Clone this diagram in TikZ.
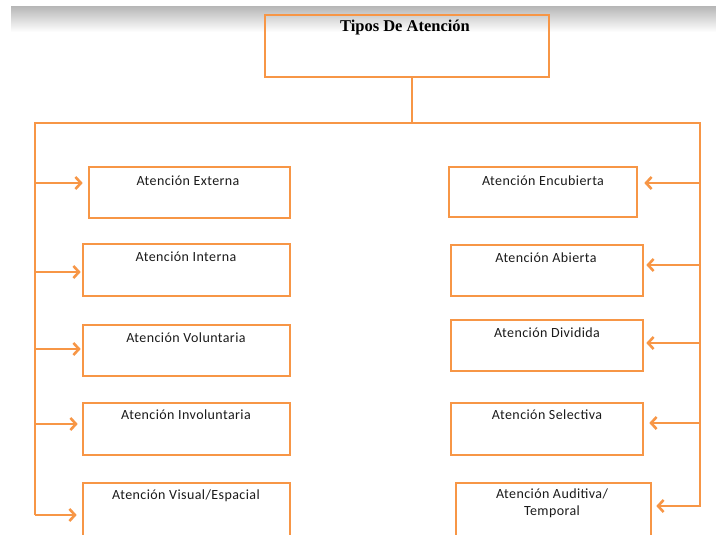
\documentclass[tikz,border=0pt]{standalone}
\usepackage{fontspec}
\usetikzlibrary{arrows.meta}
\newfontfamily\calib[LetterSpace=3]{Carlito}
\newfontfamily\tnr{Liberation Serif}
\definecolor{orc}{HTML}{F79646}
\definecolor{txt}{HTML}{1A1A1A}
\tikzset{
  box/.style={draw=orc, line width=2.6pt, rectangle, inner sep=0pt},
  lbl/.style={font=\calib\fontsize{14}{17}\selectfont, text=txt, inner sep=0pt, align=center},
  ttl/.style={font=\tnr\bfseries\fontsize{16.5}{19}\selectfont, text=black, inner sep=0pt},
  trunk/.style={draw=orc, line width=2.6pt},
  arr/.style={draw=orc, line width=2.6pt, -{Straight Barb[length=5.5pt,width=12pt]}}
}
\begin{document}
\begin{tikzpicture}[x=1pt,y=-1pt]
\useasboundingbox (0,0) rectangle (716,535);
\clip (0,0) rectangle (716,535);
\shade[top color=gray!55, bottom color=white] (11,7) rectangle (716,32);

% top box
\node[box, minimum width=284pt, minimum height=62pt] (top) at (407,46) {};
\node[ttl] (ttop) at (405,28) {Tipos De Atención};

% left boxes
\node[box, minimum width=201pt, minimum height=51pt] (ext) at (189.5,192.5) {};
\node[box, minimum width=207pt, minimum height=52pt] (int) at (186.5,270) {};
\node[box, minimum width=207pt, minimum height=51pt] (vol) at (186.5,350.5) {};
\node[box, minimum width=207pt, minimum height=52pt] (inv) at (186.5,429) {};
\node[box, minimum width=207pt, minimum height=62pt] (vis) at (186.5,514) {};
% right boxes
\node[box, minimum width=188pt, minimum height=50pt] (enc) at (543,192) {};
\node[box, minimum width=192pt, minimum height=51pt] (abi) at (547,270.5) {};
\node[box, minimum width=192pt, minimum height=51pt] (div) at (547,345.5) {};
\node[box, minimum width=192pt, minimum height=52pt] (sel) at (547,429) {};
\node[box, minimum width=195pt, minimum height=62pt] (aud) at (553.5,514) {};

% labels
\node[lbl] (text) at (188,181) {Atención Externa};
\node[lbl] (tint) at (186,257) {Atención Interna};
\node[lbl] (tvol) at (186,338) {Atención Voluntaria};
\node[lbl] (tinv) at (186,415) {Atención Involuntaria};
\node[lbl] (tvis) at (186,496) {Atención Visual/Espacial};
\node[lbl] (tenc) at (543,181) {Atención Encubierta};
\node[lbl] (tabi) at (546,258) {Atención Abierta};
\node[lbl] (tdiv) at (547,333) {Atención Dividida};
\node[lbl] (tsel) at (547,415) {Atención Selectiva};
\node[lbl] (taud) at (552,503) {Atención Auditiva/\\Temporal};

% trunk
\coordinate (jn) at (412,123);
\coordinate (lt) at (35,123);
\coordinate (rt) at (700,123);
\coordinate (lb) at (35,515);
\coordinate (rb) at (700,507);
\draw[trunk] (top.south -| jn) -- (jn);
\draw[trunk] (lb) -- (lt) -- (rt) -- (rb);

% left arrows
\coordinate (l1) at (35,183);
\coordinate (l2) at (35,272);
\coordinate (l3) at (35,349);
\coordinate (l4) at (35,424);
\coordinate (l5) at (35,515);
\draw[arr, shorten >=5pt] (l1) -- (l1 -| ext.west);
\draw[arr, shorten >=1pt] (l2) -- (l2 -| int.west);
\draw[arr, shorten >=1pt] (l3) -- (l3 -| vol.west);
\draw[arr, shorten >=4pt] (l4) -- (l4 -| inv.west);
\draw[arr, shorten >=5pt] (l5) -- (l5 -| vis.west);
% right arrows
\coordinate (r1) at (700,183);
\coordinate (r2) at (700,265);
\coordinate (r3) at (700,343);
\coordinate (r4) at (700,423);
\coordinate (r5) at (700,506);
\draw[arr, shorten >=6pt] (r1) -- (r1 -| enc.east);
\draw[arr, shorten >=2pt] (r2) -- (r2 -| abi.east);
\draw[arr, shorten >=2pt] (r3) -- (r3 -| div.east);
\draw[arr, shorten >=5pt] (r4) -- (r4 -| sel.east);
\draw[arr, shorten >=4pt] (r5) -- (r5 -| aud.east);
\end{tikzpicture}
\end{document}
